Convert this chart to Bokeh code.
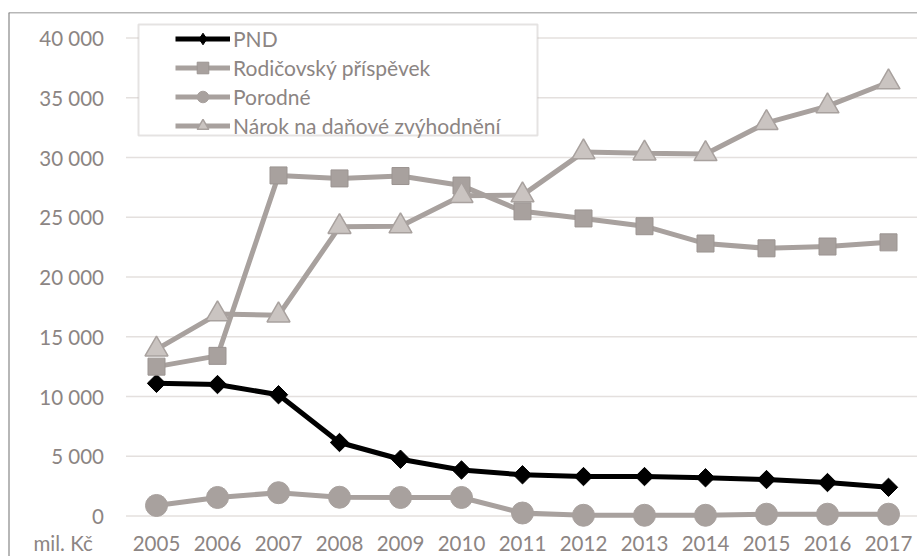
import math
from bokeh.plotting import figure
from bokeh.models import (Range1d, LinearAxis, FixedTicker, Legend, LegendItem,
                          Span, BoxAnnotation, Label)
from bokeh.embed import file_html
from bokeh.resources import INLINE

# ---------------- data ----------------
years = [2005, 2006, 2007, 2008, 2009, 2010, 2011, 2012, 2013, 2014, 2015, 2016, 2017]
pnd = [11100, 11000, 10150, 6150, 4750, 3850, 3450, 3300, 3300, 3200, 3050, 2800, 2400]
rodicovsky = [12500, 13400, 28500, 28250, 28450, 27650, 25500, 24900, 24250, 22800, 22400, 22550, 22900]
porodne = [880, 1550, 1950, 1570, 1550, 1550, 250, 60, 60, 60, 150, 150, 150]
narok = [13950, 16900, 16800, 24200, 24250, 26800, 26850, 30450, 30350, 30300, 32900, 34300, 36300]
series_names = ["PND", "Rodičovský příspěvek", "Porodné", "Nárok na daňové zvýhodnění"]
y_ticks = [0, 5000, 10000, 15000, 20000, 25000, 30000, 35000, 40000]
y_tick_labels = ["0", "5 000", "10 000", "15 000", "20 000", "25 000", "30 000", "35 000", "40 000"]
unit_label = "mil. Kč"

# ---------------- layout ----------------
W, H = 917, 556
LEFT, TOP = 8, 12
FRAME_W = W - LEFT
FRAME_H = H - TOP
PX_PER_YEAR = 61.0
X0_PX = 148.0            # pixel of first year from frame left
PX_PER_UNIT = 0.01195
Y0_PX = 503.5            # pixel of value 0 from frame top

x_start = years[0] - X0_PX / PX_PER_YEAR
x_end = x_start + FRAME_W / PX_PER_YEAR
y_end = Y0_PX / PX_PER_UNIT
y_start = -(FRAME_H - Y0_PX) / PX_PER_UNIT

def fx(px):
    return x_start + px / PX_PER_YEAR

def fy(py):
    return (Y0_PX - py) / PX_PER_UNIT

FONT = "Lato"
TXT = "#8c8583"
GRAY = "#a8a19e"
GRAY_DARK = "#9b9491"
TRI_FILL = "#cac4c1"
GRID = "#e4e0de"

p = figure(width=W, height=H, output_backend="svg", toolbar_location=None,
           x_range=Range1d(x_start, x_end), y_range=Range1d(y_start, y_end),
           x_axis_type=None, y_axis_type=None,
           min_border_left=LEFT, min_border_right=0, min_border_top=TOP, min_border_bottom=0)
p.outline_line_color = None
p.background_fill_color = "white"
p.border_fill_color = "white"

# gridlines (start at plot-area left edge)
plot_left = years[0] - 0.5
p.segment(x0=[plot_left] * len(y_ticks), y0=y_ticks, x1=[x_end] * len(y_ticks), y1=y_ticks,
          line_color=GRID, line_width=1.5, level="underlay")

# axes
yaxis = LinearAxis(fixed_location=plot_left, ticker=FixedTicker(ticks=y_ticks),
                   major_label_overrides={t: l for t, l in zip(y_ticks, y_tick_labels)})
xaxis = LinearAxis(fixed_location=0, ticker=FixedTicker(ticks=years),
                   major_label_overrides={y: str(y) for y in years})
for ax in (yaxis, xaxis):
    ax.axis_line_color = None
    ax.major_tick_line_color = None
    ax.minor_tick_line_color = None
    ax.major_tick_out = 0
    ax.major_tick_in = 0
    ax.major_label_text_font = FONT
    ax.major_label_text_font_size = "20.5px"
    ax.major_label_text_color = TXT
yaxis.major_label_standoff = 22
xaxis.major_label_standoff = 20
p.add_layout(yaxis, "left")
p.add_layout(xaxis, "below")

# series
l_pnd = p.line(years, pnd, line_color="black", line_width=5)
m_pnd = p.scatter(years, pnd, marker="square", angle=math.pi / 4, size=13,
                  fill_color="black", line_color="black")
lg_pnd = p.scatter(years, pnd, marker="diamond", size=13, fill_color="black",
                   line_color="black", visible=False)

l_rod = p.line(years, rodicovsky, line_color=GRAY, line_width=5)
m_rod = p.scatter(years, rodicovsky, marker="square", size=17, fill_color=GRAY,
                  line_color=GRAY_DARK, line_width=1)

l_por = p.line(years, porodne, line_color=GRAY, line_width=5)
m_por = p.scatter(years, porodne, marker="circle", size=22, fill_color=GRAY,
                  line_color=GRAY, line_width=1)

l_nar = p.line(years, narok, line_color=GRAY, line_width=5)
m_nar = p.scatter(years, narok, marker="triangle", size=23, fill_color=TRI_FILL,
                  line_color=GRAY, line_width=1.5)

# chart border (left and top)
p.add_layout(Span(location=x_start, dimension="height", line_color="#707070", line_width=2))
p.add_layout(Span(location=y_end, dimension="width", line_color="#707070", line_width=1.5))

# legend box
box = BoxAnnotation(left=fx(130), right=fx(529), top=fy(12), bottom=fy(123),
                    fill_color="white", fill_alpha=1.0, line_color=GRAY, line_width=2)
p.add_layout(box)

legend = Legend(items=[
    LegendItem(label=series_names[0], renderers=[l_pnd, lg_pnd]),
    LegendItem(label=series_names[1], renderers=[l_rod, m_rod]),
    LegendItem(label=series_names[2], renderers=[l_por, m_por]),
    LegendItem(label=series_names[3], renderers=[l_nar, m_nar]),
], location=(167, 416))
legend.padding = 0
legend.margin = 0
legend.spacing = 0
legend.glyph_width = 55
legend.glyph_height = 29
legend.label_height = 29
legend.label_standoff = 3
legend.border_line_color = None
legend.background_fill_alpha = 0
legend.label_text_font = FONT
legend.label_text_font_size = "21px"
legend.label_text_color = TXT
p.add_layout(legend, "center")

p.add_layout(Label(x=fx(25), y=fy(530), text=unit_label, text_align="left",
                   text_baseline="middle", text_font=FONT, text_font_size="20.5px",
                   text_color=TXT))

open("out.html", "w").write(file_html(p, INLINE))
